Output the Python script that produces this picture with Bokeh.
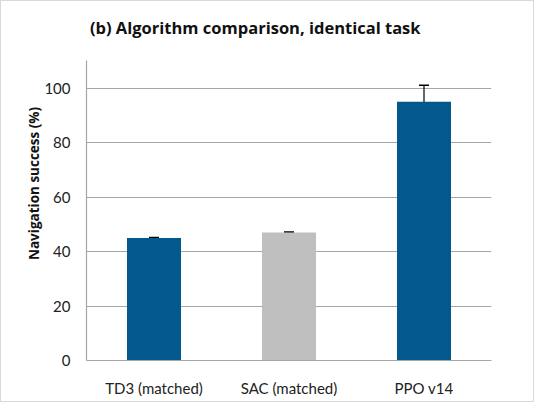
from bokeh.plotting import figure
from bokeh.models import ColumnDataSource, FactorRange, Range1d, Whisker, TeeHead, FixedTicker, Label
from bokeh.embed import file_html
from bokeh.resources import INLINE

categories = ["TD3 (matched)", "SAC (matched)", "PPO v14"]
success = [45, 47, 95]
error = [0.2, 0.2, 6.1]
colors = ["#03588C", "#BFBFBF", "#03588C"]
title_text = "(b) Algorithm comparison, identical task"

upper = [v + e for v, e in zip(success, error)]
lower = [v - e for v, e in zip(success, error)]
src = ColumnDataSource(dict(cat=categories, val=success, up=upper, lo=lower, col=colors))

FONT = "Lato"
BOLD = "Open Sans"
p = figure(x_range=FactorRange(*categories, range_padding=0), y_range=Range1d(0, 130),
           width=534, height=402, output_backend="svg", toolbar_location=None,
           min_border_left=85, min_border_right=44, min_border_top=5, min_border_bottom=43)
p.title = None
p.styles = {"border": "1px solid #D9D9D9"}

title = Label(x=1.25, y=122.4, text=title_text, text_font=BOLD, text_font_size="16.5px",
              text_font_style="bold", text_color="#111111", text_align="center",
              text_baseline="middle")
p.add_layout(title)

p.vbar(x="cat", top="val", width=0.4, fill_color="col", line_color=None, source=src)
w = Whisker(base="cat", upper="up", lower="lo", source=src, line_color="black", line_width=1.2,
            upper_head=TeeHead(size=10, line_color="black", line_width=1.5),
            lower_head=TeeHead(size=10, line_color="black", line_width=1.5))
p.add_layout(w)

p.outline_line_color = None
p.xgrid.grid_line_color = None
p.ygrid.grid_line_color = "#A6A6A6"
p.ygrid.grid_line_width = 1.2
p.yaxis.ticker = FixedTicker(ticks=[0, 20, 40, 60, 80, 100])
p.yaxis.bounds = (0, 110)
p.yaxis.axis_label = "Navigation success (%)"
p.yaxis.axis_label_text_font = BOLD
p.yaxis.axis_label_text_font_style = "bold"
p.yaxis.axis_label_text_font_size = "13.5px"
p.yaxis.axis_label_text_color = "#111111"
p.yaxis.axis_label_standoff = -2
for ax in (p.xaxis, p.yaxis):
    ax.axis_line_color = "#A6A6A6"
    ax.axis_line_width = 1.2
    ax.major_tick_line_color = None
    ax.minor_tick_line_color = None
    ax.major_label_text_font = FONT
    ax.major_label_text_font_size = "15px"
    ax.major_label_text_color = "#222222"
p.yaxis.major_label_standoff = 10
p.xaxis.major_label_standoff = 12

open("out.html", "w").write(file_html(p, INLINE))
